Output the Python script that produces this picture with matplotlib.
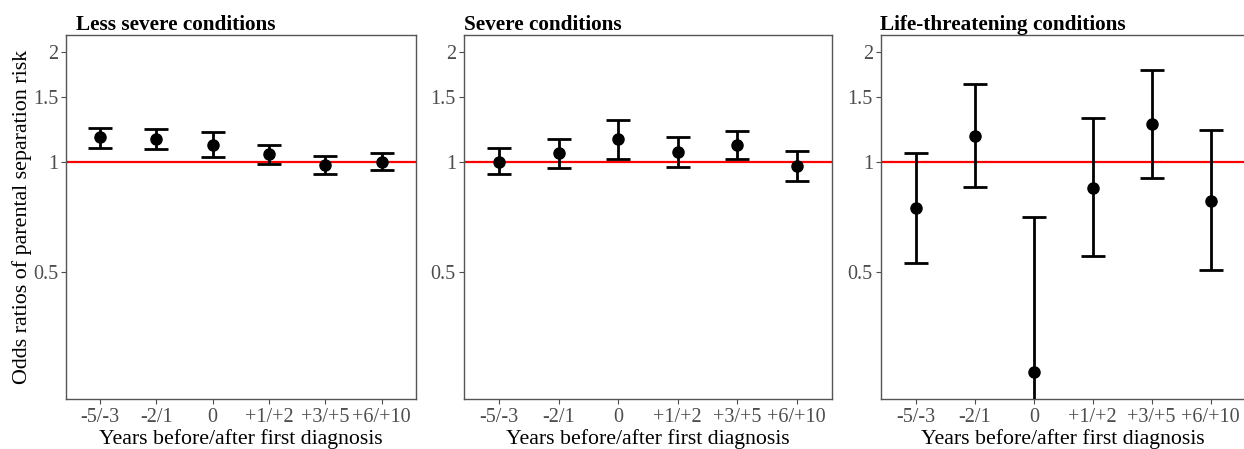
import numpy as np
import matplotlib
matplotlib.use("Agg")
import matplotlib.pyplot as plt

plt.rcParams['font.family'] = ['Liberation Serif', 'DejaVu Serif']

categories = ["-5/-3", "-2/1", "0", "+1/+2", "+3/+5", "+6/+10"]
titles = ["Less severe conditions", "Severe conditions", "Life-threatening conditions"]

# odds ratios with 95% CI, one set per panel
or_less = [1.167, 1.155, 1.112, 1.049, 0.979, 1.002]
lo_less = [1.094, 1.085, 1.030, 0.988, 0.924, 0.951]
hi_less = [1.237, 1.227, 1.204, 1.115, 1.038, 1.060]

or_severe = [1.000, 1.054, 1.155, 1.065, 1.110, 0.973]
lo_severe = [0.924, 0.961, 1.021, 0.967, 1.017, 0.886]
hi_severe = [1.089, 1.155, 1.301, 1.172, 1.212, 1.071]

or_life = [0.747, 1.179, 0.267, 0.850, 1.271, 0.783]
lo_life = [0.529, 0.853, 0.100, 0.555, 0.905, 0.507]
hi_life = [1.060, 1.633, 0.707, 1.317, 1.783, 1.224]

panels = [(or_less, lo_less, hi_less),
          (or_severe, lo_severe, hi_severe),
          (or_life, lo_life, hi_life)]

fig = plt.figure(figsize=(12.44, 4.49), dpi=100)
bottom, top = 0.1114, 0.922
lefts = [66 / 1244, 463.5 / 1244, 880.5 / 1244]
rights = [415.5 / 1244, 832.3 / 1244, 1246 / 1244]
title_offset = [10, 0, 0]  # pixels from left spine

# ggplot-style log scale: limits 0.25..2 with 5% expansion
lo_lim, hi_lim = np.log(0.25), np.log(2)
pad = 0.05 * (hi_lim - lo_lim)
ylim = (np.exp(lo_lim - pad), np.exp(hi_lim + pad))

grey = "#4D4D4D"
x = np.arange(1, len(categories) + 1)

for i, (est, lo, hi) in enumerate(panels):
    ax = fig.add_axes([lefts[i], bottom, rights[i] - lefts[i], top - bottom])
    ax.set_yscale('log')
    est = np.array(est)
    yerr = [est - np.array(lo), np.array(hi) - est]
    ax.axhline(1, color='#FF0000', lw=1.6, zorder=1)
    ax.errorbar(x, est, yerr=yerr, fmt='o', color='black', ms=8,
                elinewidth=2, capsize=8.3, capthick=2, zorder=3)
    ax.set_ylim(*ylim)
    ax.set_xlim(0.4, 6.6)
    ax.set_yticks([0.5, 1, 1.5, 2])
    ax.set_yticklabels(["0.5", "1", "1.5", "2"])
    ax.yaxis.set_minor_locator(matplotlib.ticker.NullLocator())
    ax.set_xticks(x)
    ax.set_xticklabels(categories)
    ax.tick_params(axis='both', colors=grey, labelsize=14.5, length=3.5,
                   width=0.8, pad=2)
    ax.tick_params(axis='x', pad=3)
    for s in ax.spines.values():
        s.set_color('#555555')
        s.set_linewidth(1)
    ax.set_xlabel("Years before/after first diagnosis", fontsize=15.7,
                  color='black', labelpad=1.5)
    w_px = (rights[i] - lefts[i]) * 1244
    ax.set_title(titles[i], loc='left', fontsize=15.3, fontweight='bold',
                 x=title_offset[i] / w_px, pad=3)
    if i == 0:
        ax.set_ylabel("Odds ratios of parental separation risk", fontsize=15.8,
                      labelpad=1)

fig.savefig("out.png", dpi=100)
